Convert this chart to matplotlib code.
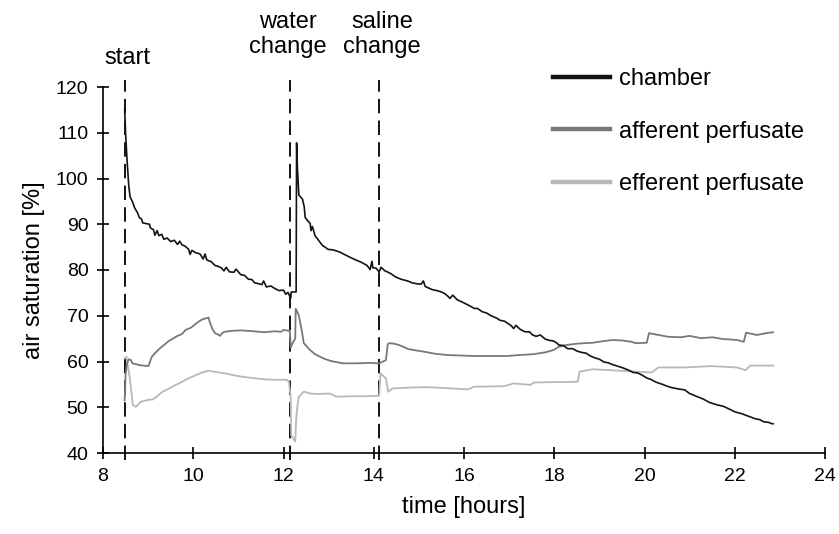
import matplotlib
matplotlib.use("Agg")
import matplotlib.pyplot as plt
from matplotlib.lines import Line2D

plt.rcParams['font.family'] = ['Liberation Sans', 'DejaVu Sans']

# ---- data ----
chamber_t = [8.48, 8.50, 8.53, 8.57, 8.60, 8.65, 8.70, 8.76, 8.81, 8.85, 8.88, 9.03, 9.05, 9.12, 9.15,
             9.20, 9.24, 9.30, 9.35, 9.42, 9.50, 9.58, 9.65, 9.70, 9.75, 9.82, 9.90, 9.93, 9.97, 10.05,
             10.15, 10.22, 10.26, 10.30, 10.40, 10.48, 10.55, 10.62, 10.68, 10.73, 10.80, 10.90, 10.95,
             11.05, 11.14, 11.22, 11.30, 11.36, 11.45, 11.52, 11.56, 11.62, 11.72, 11.80, 11.90, 12.00,
             12.05, 12.10, 12.16, 12.17, 12.28, 12.29, 12.31, 12.34, 12.42, 12.46, 12.48, 12.55, 12.59,
             12.61, 12.64, 12.70, 12.76, 12.81, 12.86, 12.92, 12.99, 13.10, 13.25, 13.35, 13.47, 13.60,
             13.70, 13.76, 13.85, 13.92, 13.96, 13.98, 14.05, 14.12, 14.16, 14.25, 14.30, 14.38, 14.48,
             14.60, 14.75, 14.85, 14.95, 15.05, 15.10, 15.14, 15.30, 15.40, 15.50, 15.58, 15.65, 15.69,
             15.75, 15.85, 16.00, 16.10, 16.23, 16.30, 16.40, 16.50, 16.60, 16.72, 16.80, 16.90, 16.96,
             17.05, 17.10, 17.15, 17.25, 17.35, 17.45, 17.52, 17.60, 17.69, 17.80, 17.90, 17.98, 18.05,
             18.10, 18.20, 18.30, 18.41, 18.50, 18.60, 18.71, 18.80, 18.90, 19.00, 19.10, 19.20, 19.30,
             19.43, 19.55, 19.65, 19.75, 19.85, 19.95, 20.05, 20.16, 20.25, 20.40, 20.50, 20.60, 20.75,
             20.89, 21.00, 21.10, 21.20, 21.30, 21.45, 21.62, 21.75, 21.90, 22.00, 22.15, 22.34, 22.45,
             22.55, 22.65, 22.75, 22.82, 22.85]
chamber_v = [115.2, 110.0, 104.5, 98.5, 96.0, 95.0, 93.6, 92.6, 91.4, 91.2, 90.3, 90.0, 89.2, 88.8, 87.6,
             88.6, 87.5, 87.8, 86.7, 87.0, 86.2, 86.5, 85.6, 86.3, 85.5, 85.2, 84.5, 83.4, 84.3, 83.8,
             83.5, 82.4, 83.5, 82.2, 81.8, 81.0, 80.8, 80.5, 79.8, 80.6, 79.6, 79.5, 80.2,
             79.0, 78.8, 78.0, 77.9, 77.2, 77.0, 76.8, 77.6, 76.3, 76.5, 76.0, 75.5, 75.6,
             74.7, 75.1, 73.8, 75.2, 75.2, 107.8, 102.0, 96.4, 95.5, 93.8, 91.5, 90.6, 90.2,
             88.6, 89.5, 87.5, 86.7, 86.0, 85.4, 85.0, 84.5, 84.4, 83.9, 83.4, 82.8, 82.2,
             81.8, 81.5, 81.0, 80.1, 81.9, 80.5, 80.4, 79.6, 80.6, 79.8, 79.6, 79.2, 78.5,
             78.0, 77.6, 77.2, 77.0, 76.9, 77.6, 76.4, 75.7, 75.5, 75.2, 74.8, 74.2, 73.8,
             74.5, 73.5, 72.8, 72.3, 71.6, 71.6, 70.9, 70.6, 70.0, 69.5, 69.0, 68.8, 68.4,
             67.8, 67.2, 67.9, 67.0, 66.5, 66.5, 65.8, 65.5, 65.8, 64.9, 64.6, 64.5, 64.1,
             63.6, 63.5, 62.8, 62.8, 62.3, 62.0, 61.8, 61.2, 60.8, 60.5, 59.9, 59.7, 59.3,
             58.9, 58.5, 58.1, 57.6, 57.5, 57.0, 56.4, 56.0, 55.5, 55.0, 54.6, 54.3, 54.0,
             53.8, 53.0, 52.6, 52.2, 51.8, 51.0, 50.5, 50.2, 49.5, 49.0, 48.6, 47.9, 47.5,
             47.3, 46.8, 46.7, 46.4, 46.4]

afferent_t = [8.48, 8.50, 8.53, 8.57, 8.62, 8.65, 8.70, 8.81, 9.01, 9.05, 9.08, 9.15, 9.24, 9.35, 9.46,
              9.55, 9.65, 9.75, 9.83, 9.95, 10.05, 10.12, 10.20, 10.34, 10.36, 10.42, 10.48, 10.55,
              10.59, 10.65, 10.70, 10.85, 11.06, 11.20, 11.35, 11.57, 11.80, 11.95, 12.00, 12.14,
              12.16, 12.20, 12.26, 12.27, 12.30, 12.34, 12.40, 12.45, 12.59, 12.70, 12.88, 13.05,
              13.32, 13.60, 13.90, 14.12, 14.27, 14.31, 14.34, 14.45, 14.56, 14.68, 14.77, 14.95,
              15.14, 15.35, 15.65, 15.95, 16.23, 16.50, 16.96, 17.20, 17.54, 17.80, 17.98, 18.10,
              18.27, 18.50, 18.85, 19.05, 19.29, 19.50, 19.72, 19.80, 20.05, 20.10, 20.20, 20.53,
              20.80, 21.00, 21.25, 21.50, 21.75, 22.05, 22.20, 22.25, 22.49, 22.70, 22.85]
afferent_v = [51.5, 57.0, 59.5, 60.5, 60.3, 59.6, 59.5, 59.2, 59.0, 60.2, 61.0, 61.8, 62.7, 63.6, 64.5,
              65.0, 65.6, 66.0, 66.9, 67.4, 68.2, 68.7, 69.2, 69.6, 68.8, 67.2, 66.2, 65.9,
              65.6, 66.3, 66.5, 66.7, 66.8, 66.7, 66.6, 66.4, 66.6, 66.5, 66.9, 66.7,
              63.0, 64.0, 65.0, 71.5, 71.0, 70.0, 67.0, 64.0, 62.5, 61.6, 60.7, 60.1,
              59.6, 59.6, 59.7, 59.6, 60.3, 63.8, 64.0, 63.9, 63.6, 63.1, 62.7, 62.4,
              62.1, 61.7, 61.4, 61.3, 61.2, 61.2, 61.2, 61.4, 61.6, 62.0, 62.5, 63.2,
              63.6, 63.9, 64.1, 64.4, 64.7, 64.6, 64.3, 64.0, 64.1, 66.2, 66.0, 65.4,
              65.3, 65.6, 65.1, 65.3, 64.9, 64.7, 64.3, 66.3, 65.8, 66.2, 66.4]

efferent_t = [8.48, 8.52, 8.55, 8.60, 8.66, 8.73, 8.84, 9.00, 9.10, 9.20, 9.32, 9.45, 9.55, 9.68, 9.85,
              10.05, 10.20, 10.34, 10.50, 10.70, 10.90, 11.06, 11.30, 11.57, 11.85, 12.08, 12.12,
              12.16, 12.17, 12.26, 12.28, 12.31, 12.34, 12.45, 12.60, 12.74, 13.03, 13.17, 13.50,
              13.80, 14.12, 14.15, 14.27, 14.32, 14.41, 14.80, 15.14, 15.60, 16.08, 16.23, 16.89,
              17.10, 17.47, 17.55, 17.98, 18.30, 18.52, 18.56, 18.85, 19.43, 20.16, 20.31, 20.89,
              21.47, 22.05, 22.24, 22.34, 22.85]
efferent_v = [60.7, 61.0, 59.2, 56.0, 50.5, 50.1, 51.2, 51.6, 51.7, 52.4, 53.4, 54.0, 54.6, 55.2, 56.1,
              57.0, 57.6, 58.0, 57.7, 57.4, 57.0, 56.7, 56.4, 56.1, 56.0, 56.0, 55.5,
              52.3, 43.9, 42.5, 47.2, 50.5, 52.3, 53.4, 53.0, 52.9, 53.0, 52.3, 52.4,
              52.4, 52.5, 57.4, 56.3, 53.4, 54.1, 54.3, 54.4, 54.2, 53.9, 54.5, 54.6,
              55.2, 54.9, 55.4, 55.5, 55.5, 55.6, 57.8, 58.3, 58.0, 57.6, 58.7, 58.7,
              59.0, 58.7, 58.1, 59.1, 59.1]

event_times = [8.49, 12.15, 14.12]
event_labels = ["start", "water\nchange", "saline\nchange"]
event_label_x = [8.55, 12.1, 14.18]

series_names = ["chamber", "afferent perfusate", "efferent perfusate"]
series_colors = ["#141414", "#787878", "#b8b8b8"]

x_ticks = [8, 10, 12, 14, 16, 18, 20, 22, 24]
y_ticks = [40, 50, 60, 70, 80, 90, 100, 110, 120]

# ---- figure ----
W, H = 839, 534
fig = plt.figure(figsize=(W / 100, H / 100), dpi=100)
ax = fig.add_axes([103 / W, 1 - 453 / H, (825 - 103) / W, (453 - 87) / H])

ax.plot(efferent_t, efferent_v, color=series_colors[2], lw=1.3, zorder=3)
ax.plot(afferent_t, afferent_v, color=series_colors[1], lw=1.3, zorder=4)
ax.plot(chamber_t, chamber_v, color=series_colors[0], lw=1.2, zorder=5)

for t in event_times:
    ax.plot([t, t], [38.5, 121.6], color="black", lw=1.3, dashes=(8, 4),
            clip_on=False, zorder=2)

ax.text(event_label_x[0], 126.3, event_labels[0], ha="center", va="center", fontsize=17)
ax.text(event_label_x[1], 131.5, event_labels[1], ha="center", va="center", fontsize=17,
        linespacing=1.2)
ax.text(event_label_x[2], 131.5, event_labels[2], ha="center", va="center", fontsize=17,
        linespacing=1.2)

ax.set_xlim(8, 24)
ax.set_ylim(40, 120)
ax.set_xticks(x_ticks)
ax.set_yticks(y_ticks)
ax.tick_params(direction="inout", length=9, width=1.2, labelsize=14, pad=6)
for s in ["top", "right"]:
    ax.spines[s].set_visible(False)
for s in ["left", "bottom"]:
    ax.spines[s].set_linewidth(1.2)

ax.set_xlabel("time [hours]", fontsize=17, labelpad=8)
ax.set_ylabel("air saturation [%]", fontsize=17, labelpad=8)

handles = [Line2D([0], [0], color=c, lw=3.2) for c in series_colors]
fig.legend(handles, series_names, loc="upper left",
           bbox_to_anchor=(553 / W, 1 - 68 / H), frameon=False, fontsize=17,
           handlelength=2.4, handletextpad=0.4, labelspacing=1.3, borderpad=0,
           borderaxespad=0)

fig.savefig("out.png", dpi=100)
